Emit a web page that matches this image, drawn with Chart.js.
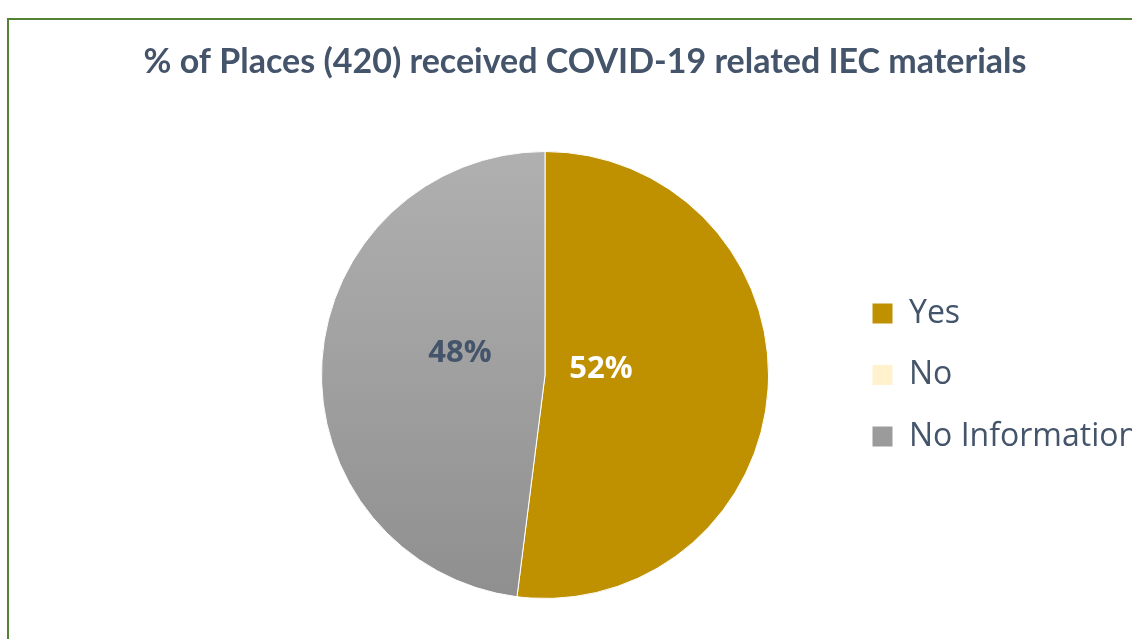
<!DOCTYPE html>
<html>
<head>
<meta charset="utf-8">
<script src="https://cdn.jsdelivr.net/npm/chart.js@4"></script>
<style>
  html, body { margin: 0; padding: 0; background: #fff; overflow: hidden; }
  #frame {
    position: absolute; left: 7px; top: 18px; width: 1200px; height: 700px;
    border: 2px solid #548235;
  }
  #wrap { position: absolute; left: 0; top: 0; width: 1132px; height: 639px; }
</style>
</head>
<body>
<div id="frame"></div>
<div id="wrap"><canvas id="pieChart"></canvas></div>
<script>
const chartTitle = '% of Places (420) received COVID-19 related IEC materials';
const categories = ['Yes', 'No', 'No Information'];
const percentValues = [52, 0, 48];

const textColor = '#44546A';
const labelColors = ['#FFFFFF', textColor, textColor];
// label offsets from the pie centre, in px
const labelOffsets = [[56, -6], [0, 0], [-85, -22]];

function sliceColor(context) {
  const chart = context.chart;
  const area = chart.chartArea;
  const i = context.dataIndex;
  if (i === 0) return '#BF9000';
  if (i === 1) return '#FFF2CC';
  if (!area) return '#A5A5A5';
  const g = chart.ctx.createLinearGradient(0, area.top, 0, area.bottom);
  g.addColorStop(0, '#B0B0B0');
  g.addColorStop(1, '#8F8F8F');
  return g;
}

// draws the percentage labels inside the slices
const sliceLabels = {
  id: 'sliceLabels',
  afterDatasetsDraw(chart) {
    const ctx = chart.ctx;
    const meta = chart.getDatasetMeta(0);
    ctx.save();
    ctx.font = 'bold 31px "Open Sans"';
    ctx.textAlign = 'center';
    ctx.textBaseline = 'middle';
    meta.data.forEach((arc, i) => {
      const v = percentValues[i];
      if (!v) return;
      ctx.fillStyle = labelColors[i];
      ctx.fillText(v + '%', arc.x + labelOffsets[i][0], arc.y + labelOffsets[i][1]);
    });
    ctx.restore();
  }
};

// title wider than the plot+legend block, legend text running off the right edge
const widenBoxes = {
  id: 'widenBoxes',
  afterLayout(chart) {
    const lg = chart.legend;
    lg.right = chart.width;
    lg.width = lg.right - lg.left;
    const tb = chart.titleBlock;
    const mid = (tb.left + tb.right) / 2;
    tb.left = mid - 540;
    tb.right = mid + 540;
    tb.width = 1080;
  }
};

const ctx = document.getElementById('pieChart').getContext('2d');
new Chart(ctx, {
  type: 'pie',
  data: {
    labels: categories,
    datasets: [{
      data: percentValues,
      backgroundColor: sliceColor,
      borderColor: '#FFFFFF',
      borderWidth: 1
    }]
  },
  options: {
    responsive: true,
    maintainAspectRatio: false,
    animation: false,
    layout: {
      padding: { left: 247.5, right: 209.5, top: 0, bottom: 40 }
    },
    plugins: {
      title: {
        display: true,
        text: chartTitle,
        color: textColor,
        font: { family: 'Lato', size: 34, weight: 'bold', lineHeight: 1.2 },
        padding: { top: 41.6, bottom: 68.6 }
      },
      legend: {
        position: 'right',
        fullSize: false,
        maxWidth: 80,
        labels: {
          color: textColor,
          font: { family: 'Open Sans', size: 32 },
          boxWidth: 21,
          boxHeight: 21,
          padding: 29.5
        }
      },
      tooltip: { enabled: false }
    }
  },
  plugins: [sliceLabels, widenBoxes]
});
</script>
</body>
</html>
